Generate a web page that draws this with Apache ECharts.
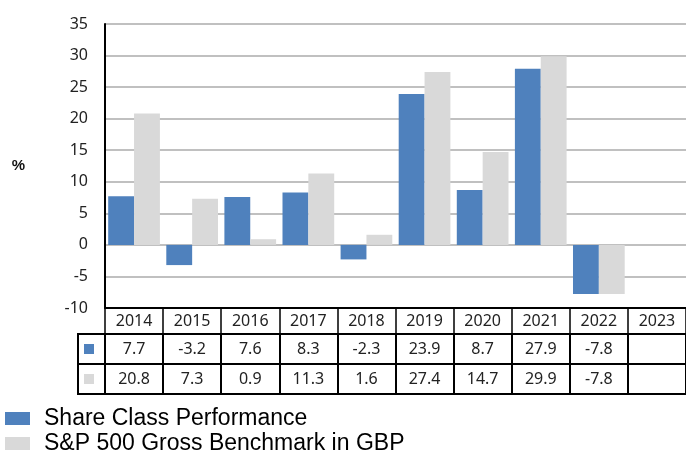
<!DOCTYPE html>
<html lang="en">
<head>
    <meta charset="UTF-8">
    <title>Performance chart</title>
    <style>
        html, body { margin: 0; padding: 0; background: #fff; }
    </style>
    <script src="https://cdn.jsdelivr.net/npm/echarts@6/dist/echarts.min.js"></script>
</head>
<body>
<div id="main" style="width:686px;height:452px"></div>
<script>
    var years = ['2014', '2015', '2016', '2017', '2018', '2019', '2020', '2021', '2022', '2023'];
    var shareClass = [7.7, -3.2, 7.6, 8.3, -2.3, 23.9, 8.7, 27.9, -7.8, null];
    var benchmark = [20.8, 7.3, 0.9, 11.3, 1.6, 27.4, 14.7, 29.9, -7.8, null];
    var seriesNames = ['Share Class Performance', 'S&P 500 Gross Benchmark in GBP'];
    var colors = ['#4f81bd', '#d9d9d9'];

    var tableFont = 'Noto Sans';

    function fmt(arr) {
        return function (v, i) {
            return arr[i] == null ? '' : arr[i].toFixed(1);
        };
    }

    // extra x axes make the data table under the plot
    function tableAxis(offset, tickLen, formatter, margin) {
        return {
            type: 'category',
            data: years,
            position: 'bottom',
            offset: offset,
            axisLine: { show: true, onZero: false, lineStyle: { color: '#000', width: 2 } },
            axisTick: { show: tickLen > 0, interval: 0, length: tickLen, lineStyle: { color: '#000', width: 2 } },
            axisLabel: {
                show: !!formatter, interval: 0, margin: margin,
                color: '#222', fontSize: 16, fontFamily: tableFont,
                formatter: formatter
            },
            splitLine: { show: false }
        };
    }

    function legendItem(i, top) {
        return {
            orient: 'vertical',
            left: 0,
            top: top,
            itemWidth: 25,
            itemHeight: 13,
            icon: 'rect',
            data: [seriesNames[i]],
            textStyle: { fontSize: 23, color: '#000', fontFamily: 'Liberation Sans', padding: [0, 0, 0, 9] }
        };
    }

    var myChart = echarts.init(document.getElementById('main'));
    var option = {
        animation: false,
        grid: { left: 105, top: 24, width: 586, bottom: 144 },
        legend: [legendItem(0, 402), legendItem(1, 427)],
        xAxis: [
            {
                type: 'category',
                data: years,
                position: 'bottom',
                axisLine: { show: true, onZero: false, lineStyle: { color: '#000', width: 2 } },
                axisTick: { show: true, interval: 0, length: 26, lineStyle: { color: '#000', width: 1.5 } },
                axisLabel: { interval: 0, margin: 5, color: '#222', fontSize: 16, fontFamily: tableFont },
                splitLine: { show: false }
            },
            tableAxis(26, 30, fmt(shareClass), 7),
            tableAxis(56, 30, fmt(benchmark), 7),
            tableAxis(86, 0, null, 0)
        ],
        yAxis: {
            type: 'value',
            min: -10,
            max: 35,
            interval: 5,
            name: '%',
            nameLocation: 'middle',
            nameRotate: 0,
            nameGap: 80,
            nameTextStyle: { fontSize: 15, fontWeight: 'bold', color: '#111', fontFamily: 'Liberation Sans Narrow, Liberation Sans' },
            axisLine: { show: true, lineStyle: { color: '#000', width: 2 } },
            axisTick: { show: false },
            axisLabel: { margin: 17, color: '#222', fontSize: 16, fontFamily: tableFont },
            splitLine: { lineStyle: { color: '#c0c0c0', width: 2 } }
        },
        graphic: [
            { type: 'rect', shape: { x: 78, y: 334, width: 27, height: 60 }, style: { fill: 'none', stroke: '#000', lineWidth: 2 } },
            { type: 'line', shape: { x1: 78, y1: 364, x2: 105, y2: 364 }, style: { stroke: '#000', lineWidth: 2 } },
            { type: 'rect', shape: { x: 84, y: 344, width: 10, height: 10 }, style: { fill: colors[0] } },
            { type: 'rect', shape: { x: 84, y: 374, width: 10, height: 10 }, style: { fill: colors[1] } }
        ],
        series: [
            {
                name: seriesNames[0],
                type: 'bar',
                data: shareClass,
                barGap: '0%',
                barCategoryGap: '11%',
                itemStyle: { color: colors[0] }
            },
            {
                name: seriesNames[1],
                type: 'bar',
                data: benchmark,
                itemStyle: { color: colors[1] }
            }
        ]
    };
    myChart.setOption(option);
</script>
</body>
</html>
